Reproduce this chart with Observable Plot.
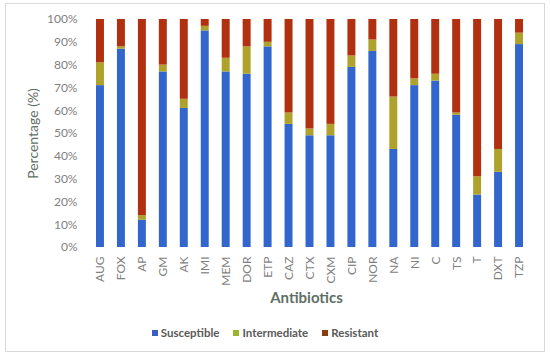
<!DOCTYPE html>
<html>
<head>
<meta charset="utf-8">
<script src="https://cdn.jsdelivr.net/npm/d3@7"></script>
<script src="https://cdn.jsdelivr.net/npm/@observablehq/plot@0.6"></script>
<style>
  html, body { margin: 0; padding: 0; background: #fff; }
  body { width: 550px; height: 358px; position: relative; overflow: hidden; font-family: Lato, "Open Sans", sans-serif; }
  #frame { position: absolute; left: 5px; top: 3px; width: 538px; height: 347px; border: 1px solid #d9d9d9; }
  #chart { position: absolute; left: 0; top: 0; }
  #chart svg { font-family: Lato, "Open Sans", sans-serif; }
  g[aria-label="y-axis label"] text { font-size: 14px; fill: #5f6f66; }
  g[aria-label="x-axis label"] text { font-size: 15px; font-weight: bold; fill: #5f6f66; }
  #legend { position: absolute; left: 0; width: 530px; top: 326px; text-align: center; font-size: 11.5px; font-weight: bold; color: #595959; }
  #legend span.item { margin: 0 7px; }
  #legend span.sw { display: inline-block; width: 6px; height: 6px; margin-right: 3px; vertical-align: 1px; }
</style>
</head>
<body>
<div id="frame"></div>
<div id="chart"></div>
<div id="legend"></div>
<script>
const antibiotics = ["AUG","FOX","AP","GM","AK","IMI","MEM","DOR","ETP","CAZ","CTX","CXM","CIP","NOR","NA","NI","C","TS","T","DXT","TZP"];
const susceptible  = [71, 87, 12, 77, 61, 95, 77, 76, 88, 54, 49, 49, 79, 86, 43, 71, 73, 58, 23, 33, 89];
const intermediate = [10,  1,  2,  3,  4,  2,  6, 12,  2,  5,  3,  5,  5,  5, 23,  3,  3,  1,  8, 10,  5];
const resistant    = [19, 12, 86, 20, 35,  3, 17, 12, 10, 41, 48, 46, 16,  9, 34, 26, 24, 41, 69, 57,  6];
const seriesNames = ["Susceptible", "Intermediate", "Resistant"];
const seriesColors = ["#3366cc", "#aea22c", "#b0300f"];
const legendColors = ["#3a5fc4", "#9bb42e", "#8a3c10"];
const yTicks = [0, 10, 20, 30, 40, 50, 60, 70, 80, 90, 100];

const seriesValues = [susceptible, intermediate, resistant];
const data = [];
antibiotics.forEach((a, i) => {
  seriesNames.forEach((s, k) => data.push({antibiotic: a, type: s, value: seriesValues[k][i]}));
});

const chart = Plot.plot({
  width: 550,
  height: 322,
  marginTop: 19,
  marginBottom: 75,
  marginLeft: 82,
  marginRight: 20,
  style: {fontFamily: "Lato, 'Open Sans', sans-serif"},
  x: {domain: antibiotics, range: [89.5, 529.5], paddingInner: 0.62, paddingOuter: 0.31, round: false},
  y: {domain: [0, 100]},
  color: {domain: seriesNames, range: seriesColors},
  marks: [
    Plot.barY(data, {x: "antibiotic", y: "value", fill: "type", z: "type", order: seriesNames}),
    Plot.axisY({ticks: yTicks, tickSize: 0, tickPadding: 5, tickFormat: d => d + "%", fontSize: 12, color: "#7f7f7f",
      label: "Percentage (%)", labelAnchor: "center", labelOffset: 54, labelArrow: "none"}),
    Plot.axisX({tickSize: 0, tickPadding: 9, tickRotate: -90, fontSize: 12, color: "#7f7f7f",
      label: "Antibiotics", labelAnchor: "center", labelOffset: 55, labelArrow: "none"})
  ]
});
document.getElementById("chart").appendChild(chart);

const legend = document.getElementById("legend");
seriesNames.forEach((s, k) => {
  const item = document.createElement("span");
  item.className = "item";
  const sw = document.createElement("span");
  sw.className = "sw";
  sw.style.background = legendColors[k];
  item.appendChild(sw);
  item.appendChild(document.createTextNode(s));
  legend.appendChild(item);
});
</script>
</body>
</html>
